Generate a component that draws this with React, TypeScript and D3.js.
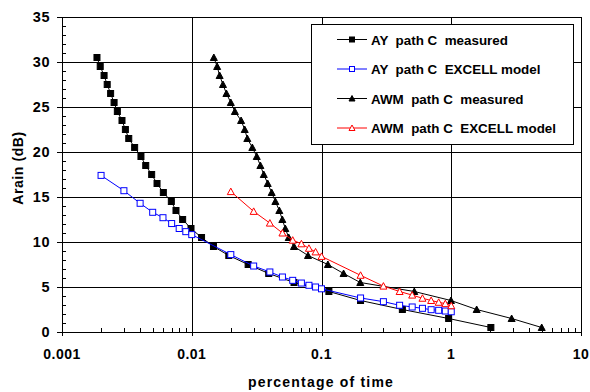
import React from 'react';
import * as d3 from 'd3';

// AY path C measured (black filled squares)
const ayMeasTime = [
  0.00186, 0.00197, 0.00211, 0.00223, 0.00237, 0.00252, 0.00267, 0.0029, 0.00308, 0.00327,
  0.00363, 0.00406, 0.00442, 0.00491, 0.0054, 0.00604, 0.00696, 0.00756, 0.00851, 0.00987,
  0.0119, 0.0147, 0.0193, 0.0272, 0.0392, 0.0614, 0.114, 0.2, 0.42, 0.955, 2.02,
];
const ayMeasRain = [
  30.5, 29.5, 28.5, 27.5, 26.5, 25.5, 24.5, 23.5, 22.5, 21.5,
  20.5, 19.5, 18.5, 17.5, 16.5, 15.5, 14.5, 13.5, 12.5, 11.5,
  10.5, 9.5, 8.5, 7.5, 6.5, 5.5, 4.5, 3.5, 2.5, 1.5, 0.5,
];

// AY path C EXCELL model (blue open squares)
const ayModelTime = [
  0.002, 0.003, 0.004, 0.005, 0.006, 0.007, 0.008, 0.009, 0.01,
  0.02, 0.03, 0.04, 0.05, 0.06, 0.07, 0.08, 0.09, 0.1,
  0.2, 0.3, 0.4, 0.5, 0.6, 0.7, 0.8, 0.9, 1,
];
const ayModelRain = [
  17.4, 15.7, 14.3, 13.3, 12.7, 12.05, 11.5, 11.15, 10.82,
  8.6, 7.33, 6.67, 6.11, 5.74, 5.44, 5.19, 5.0, 4.8,
  3.78, 3.37, 2.97, 2.78, 2.63, 2.48, 2.41, 2.33, 2.25,
];

// AWM path C measured (black filled triangles)
const awmMeasTime = [
  0.0148, 0.0157, 0.0164, 0.0174, 0.0185, 0.02, 0.0215, 0.024, 0.0256, 0.0268,
  0.0293, 0.0317, 0.0338, 0.0359, 0.0385, 0.0413, 0.0441, 0.0473, 0.0499, 0.0526,
  0.0559, 0.0614, 0.0787, 0.112, 0.148, 0.199, 0.519, 0.995, 1.57, 2.92, 4.98,
];
const awmMeasRain = [
  30.5, 29.5, 28.5, 27.5, 26.5, 25.5, 24.5, 23.5, 22.5, 21.5,
  20.5, 19.5, 18.5, 17.5, 16.5, 15.5, 14.5, 13.5, 12.5, 11.5,
  10.5, 9.5, 8.5, 7.5, 6.5, 5.5, 4.5, 3.5, 2.5, 1.5, 0.5,
];

// AWM path C EXCELL model (red open triangles)
const awmModelTime = [
  0.02, 0.03, 0.04, 0.05, 0.06, 0.07, 0.08, 0.09, 0.1,
  0.2, 0.3, 0.4, 0.5, 0.6, 0.7, 0.8, 0.9, 1,
];
const awmModelRain = [
  15.6, 13.4, 12.1, 11.0, 10.2, 9.8, 9.3, 8.9, 8.4,
  6.3, 5.1, 4.5, 4.1, 3.75, 3.5, 3.3, 3.15, 2.92,
];

const xTicks = [0.001, 0.01, 0.1, 1, 10];
const xTickLabels = ['0.001', '0.01', '0.1', '1', '10'];
const yTicks = [0, 5, 10, 15, 20, 25, 30, 35];

const legendLabels = [
  'AY  path C  measured',
  'AY  path C  EXCELL model',
  'AWM  path C  measured',
  'AWM  path C  EXCELL model',
];

type Series = { time: number[]; rain: number[]; color: string; marker: 'sq' | 'tri'; filled: boolean };

const series: Series[] = [
  { time: ayMeasTime, rain: ayMeasRain, color: '#000', marker: 'sq', filled: true },
  { time: ayModelTime, rain: ayModelRain, color: '#0000ff', marker: 'sq', filled: false },
  { time: awmMeasTime, rain: awmMeasRain, color: '#000', marker: 'tri', filled: true },
  { time: awmModelTime, rain: awmModelRain, color: '#ff0000', marker: 'tri', filled: false },
];

const W = 590;
const H = 392;
const left = 62;
const right = 581;
const top = 17;
const bottom = 332;

const font = 'Arial, "Liberation Sans", sans-serif';

const Marker = ({ x, y, s, size }: { x: number; y: number; s: Series; size: number }) => {
  const fill = s.filled ? s.color : '#fff';
  if (s.marker === 'sq') {
    return (
      <rect x={x - size / 2} y={y - size / 2} width={size} height={size}
        fill={fill} stroke={s.color} strokeWidth={1} />
    );
  }
  const w = size + 1;
  const h = size;
  return (
    <polygon
      points={`${x},${y - h / 2 - 0.5} ${x - w / 2},${y + h / 2} ${x + w / 2},${y + h / 2}`}
      fill={fill} stroke={s.color} strokeWidth={1} />
  );
};

export default function App() {
  const x = d3.scaleLog().domain([0.001, 10]).range([left, right]);
  const y = d3.scaleLinear().domain([0, 35]).range([bottom, top]);

  const line = d3.line<[number, number]>().x((d) => x(d[0])).y((d) => y(d[1]));

  const minorX: number[] = [];
  for (let dec = 0.001; dec < 10; dec *= 10) {
    for (let k = 2; k <= 9; k++) minorX.push(dec * k);
  }
  const minorY = d3.range(0, 36).filter((v) => v % 5 !== 0);

  const px = (v: number) => Math.round(v) + 0.5;

  return (
    <svg width={W} height={H} style={{ position: 'absolute', left: 0, top: 0, background: '#fff' }}
      fontFamily={font}>
      <rect width={W} height={H} fill="#fff" />
      {/* grid */}
      {yTicks.map((t) => (
        <line key={`gy${t}`} x1={left - 5} x2={right} y1={px(y(t))} y2={px(y(t))} stroke="#000" strokeWidth={1} />
      ))}
      {xTicks.map((t) => (
        <line key={`gx${t}`} x1={px(x(t))} x2={px(x(t))} y1={top} y2={bottom + 4} stroke="#000" strokeWidth={1} />
      ))}
      {/* minor ticks */}
      {minorX.map((t, i) => (
        <line key={`mx${i}`} x1={px(x(t))} x2={px(x(t))} y1={bottom - 4} y2={bottom} stroke="#000" strokeWidth={1} />
      ))}
      {minorY.map((t) => (
        <line key={`my${t}`} x1={left} x2={left + 4} y1={px(y(t))} y2={px(y(t))} stroke="#000" strokeWidth={1} />
      ))}
      {/* frame */}
      <rect x={px(left)} y={px(top)} width={Math.round(right - left)} height={Math.round(bottom - top)}
        fill="none" stroke="#000" strokeWidth={1} />

      {/* tick labels */}
      {yTicks.map((t) => (
        <text key={`ly${t}`} x={50} y={y(t) + 5} textAnchor="end" fontSize={14.5} fontWeight="bold"
          letterSpacing={0.5}>{t}</text>
      ))}
      {xTicks.map((t, i) => (
        <text key={`lx${t}`} x={x(t)} y={359} textAnchor="middle" fontSize={14} fontWeight="bold"
          letterSpacing={0.5}>{xTickLabels[i]}</text>
      ))}
      <text x={321} y={387} textAnchor="middle" fontSize={14} fontWeight="bold" letterSpacing={1.2}>
        percentage of time
      </text>
      <text transform="translate(23,168) rotate(-90)" textAnchor="middle" fontSize={14} fontWeight="bold"
        letterSpacing={0.6}>Arain (dB)</text>

      {/* series */}
      {series.map((s, si) => {
        const pts: [number, number][] = s.time.map((t, i) => [t, s.rain[i]]);
        return (
          <g key={`s${si}`}>
            <path d={line(pts) || ''} fill="none" stroke={s.color} strokeWidth={1} />
            {pts.map((p, i) => (
              <Marker key={i} x={x(p[0])} y={y(p[1])} s={s} size={6} />
            ))}
          </g>
        );
      })}

      {/* legend */}
      <rect x={311.5} y={24.5} width={262} height={120} fill="#fff" stroke="#000" strokeWidth={1} />
      {series.map((s, i) => {
        const cy = 39.5 + i * 29.5;
        return (
          <g key={`lg${i}`}>
            <line x1={337} x2={367} y1={cy} y2={cy} stroke={s.color} strokeWidth={1} />
            <Marker x={352} y={cy} s={s} size={5} />
            <text x={371} y={cy + 5} fontSize={13.4} fontWeight="bold" style={{ whiteSpace: 'pre' }}>
              {legendLabels[i]}
            </text>
          </g>
        );
      })}
    </svg>
  );
}
